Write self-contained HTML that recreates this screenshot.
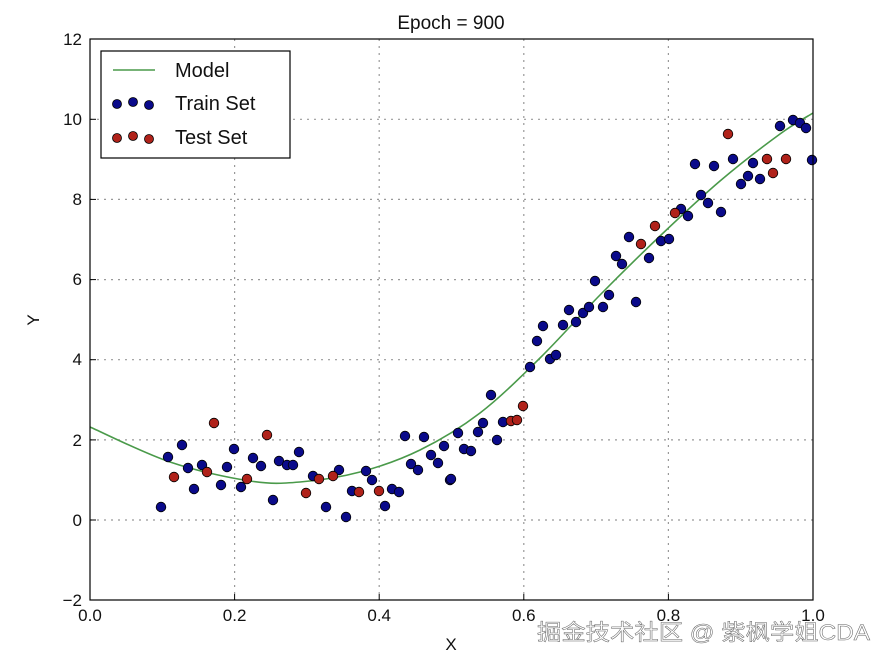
<!DOCTYPE html>
<html><head><meta charset="utf-8"><style>
body{margin:0;background:#fff;}
text{font-family:"Liberation Sans","DejaVu Sans",sans-serif;}
</style></head><body>
<svg width="891" height="664" xmlns="http://www.w3.org/2000/svg">
<rect width="891" height="664" fill="#fff"/>
<g stroke="#999" stroke-width="1.2" stroke-dasharray="2,5">
<line x1="234.6" y1="39" x2="234.6" y2="600"/><line x1="379.2" y1="39" x2="379.2" y2="600"/>
<line x1="523.8" y1="39" x2="523.8" y2="600"/><line x1="668.4" y1="39" x2="668.4" y2="600"/>
<line x1="90" y1="119.3" x2="813" y2="119.3"/><line x1="90" y1="199.4" x2="813" y2="199.4"/>
<line x1="90" y1="279.6" x2="813" y2="279.6"/><line x1="90" y1="359.7" x2="813" y2="359.7"/>
<line x1="90" y1="439.9" x2="813" y2="439.9"/><line x1="90" y1="520" x2="813" y2="520"/>
</g>
<path id="model" d="M90,427 L170,462 L250,481 L300,482 L360,472 L420,450 L480,413 L540,358 L600,295 L660,236 L720,181 L780,134 L813,113" fill="none" stroke="#4a9a4a" stroke-width="1.6"/>
<g fill="#0a0a8a" stroke="#000" stroke-width="0.8">
<circle cx="161" cy="507" r="4.8"/><circle cx="168" cy="457" r="4.8"/><circle cx="182" cy="445" r="4.8"/><circle cx="188" cy="468" r="4.8"/><circle cx="194" cy="489" r="4.8"/><circle cx="202" cy="465" r="4.8"/><circle cx="221" cy="485" r="4.8"/><circle cx="227" cy="467" r="4.8"/><circle cx="234" cy="449" r="4.8"/><circle cx="241" cy="487" r="4.8"/><circle cx="253" cy="458" r="4.8"/><circle cx="261" cy="466" r="4.8"/><circle cx="273" cy="500" r="4.8"/><circle cx="279" cy="461" r="4.8"/><circle cx="287" cy="465" r="4.8"/><circle cx="293" cy="465" r="4.8"/><circle cx="299" cy="452" r="4.8"/><circle cx="313" cy="476" r="4.8"/><circle cx="326" cy="507" r="4.8"/><circle cx="339" cy="470" r="4.8"/><circle cx="346" cy="517" r="4.8"/><circle cx="352" cy="491" r="4.8"/><circle cx="366" cy="471" r="4.8"/><circle cx="372" cy="480" r="4.8"/><circle cx="385" cy="506" r="4.8"/><circle cx="392" cy="489" r="4.8"/><circle cx="399" cy="492" r="4.8"/><circle cx="405" cy="436" r="4.8"/><circle cx="411" cy="464" r="4.8"/><circle cx="418" cy="470" r="4.8"/><circle cx="424" cy="437" r="4.8"/><circle cx="431" cy="455" r="4.8"/><circle cx="438" cy="463" r="4.8"/><circle cx="444" cy="446" r="4.8"/><circle cx="450" cy="480" r="4.8"/>
<circle cx="451" cy="479" r="4.8"/><circle cx="458" cy="433" r="4.8"/><circle cx="464" cy="449" r="4.8"/><circle cx="471" cy="451" r="4.8"/><circle cx="478" cy="432" r="4.8"/><circle cx="483" cy="423" r="4.8"/><circle cx="491" cy="395" r="4.8"/><circle cx="497" cy="440" r="4.8"/><circle cx="503" cy="422" r="4.8"/><circle cx="530" cy="367" r="4.8"/><circle cx="537" cy="341" r="4.8"/><circle cx="543" cy="326" r="4.8"/><circle cx="550" cy="359" r="4.8"/><circle cx="556" cy="355" r="4.8"/><circle cx="563" cy="325" r="4.8"/><circle cx="569" cy="310" r="4.8"/><circle cx="576" cy="322" r="4.8"/><circle cx="583" cy="313" r="4.8"/><circle cx="589" cy="307" r="4.8"/><circle cx="595" cy="281" r="4.8"/><circle cx="603" cy="307" r="4.8"/><circle cx="609" cy="295" r="4.8"/><circle cx="616" cy="256" r="4.8"/><circle cx="622" cy="264" r="4.8"/><circle cx="629" cy="237" r="4.8"/><circle cx="636" cy="302" r="4.8"/><circle cx="649" cy="258" r="4.8"/><circle cx="661" cy="241" r="4.8"/><circle cx="669" cy="239" r="4.8"/><circle cx="681" cy="209" r="4.8"/><circle cx="688" cy="216" r="4.8"/><circle cx="695" cy="164" r="4.8"/><circle cx="701" cy="195" r="4.8"/><circle cx="708" cy="203" r="4.8"/><circle cx="714" cy="166" r="4.8"/><circle cx="721" cy="212" r="4.8"/><circle cx="733" cy="159" r="4.8"/><circle cx="741" cy="184" r="4.8"/><circle cx="748" cy="176" r="4.8"/><circle cx="753" cy="163" r="4.8"/><circle cx="760" cy="179" r="4.8"/><circle cx="780" cy="126" r="4.8"/><circle cx="793" cy="120" r="4.8"/><circle cx="800" cy="123" r="4.8"/><circle cx="806" cy="128" r="4.8"/><circle cx="812" cy="160" r="4.8"/>
</g>
<g fill="#b0221a" stroke="#000" stroke-width="0.8">
<circle cx="174" cy="477" r="4.8"/><circle cx="207" cy="472" r="4.8"/><circle cx="214" cy="423" r="4.8"/><circle cx="247" cy="479" r="4.8"/><circle cx="267" cy="435" r="4.8"/><circle cx="306" cy="493" r="4.8"/><circle cx="319" cy="479" r="4.8"/><circle cx="333" cy="476" r="4.8"/><circle cx="359" cy="492" r="4.8"/><circle cx="379" cy="491" r="4.8"/><circle cx="511" cy="421" r="4.8"/><circle cx="517" cy="420" r="4.8"/><circle cx="523" cy="406" r="4.8"/><circle cx="641" cy="244" r="4.8"/><circle cx="655" cy="226" r="4.8"/><circle cx="675" cy="213" r="4.8"/><circle cx="728" cy="134" r="4.8"/><circle cx="767" cy="159" r="4.8"/><circle cx="773" cy="173" r="4.8"/><circle cx="786" cy="159" r="4.8"/>
</g>
<rect x="90" y="39" width="723" height="561" fill="none" stroke="#000" stroke-width="1.2"/>
<g stroke="#000" stroke-width="1">
<line x1="234.6" y1="600" x2="234.6" y2="594"/><line x1="379.2" y1="600" x2="379.2" y2="594"/><line x1="523.8" y1="600" x2="523.8" y2="594"/><line x1="668.4" y1="600" x2="668.4" y2="594"/>
<line x1="90" y1="119.3" x2="96" y2="119.3"/><line x1="90" y1="199.4" x2="96" y2="199.4"/><line x1="90" y1="279.6" x2="96" y2="279.6"/><line x1="90" y1="359.7" x2="96" y2="359.7"/><line x1="90" y1="439.9" x2="96" y2="439.9"/><line x1="90" y1="520" x2="96" y2="520"/>
</g>
<g font-size="17" fill="#111" text-anchor="middle">
<text x="90" y="621">0.0</text><text x="234.6" y="621">0.2</text><text x="379.2" y="621">0.4</text><text x="523.8" y="621">0.6</text><text x="668.4" y="621">0.8</text><text x="813" y="621">1.0</text>
</g>
<g font-size="17" fill="#111" text-anchor="end">
<text x="82" y="45">12</text><text x="82" y="125">10</text><text x="82" y="205">8</text><text x="82" y="285">6</text><text x="82" y="365">4</text><text x="82" y="446">2</text><text x="82" y="526">0</text><text x="82" y="606">−2</text>
</g>
<text x="451" y="29" font-size="19" text-anchor="middle" fill="#111">Epoch = 900</text>
<text x="451" y="650" font-size="17" text-anchor="middle" fill="#111">X</text>
<text x="39" y="320" font-size="17" text-anchor="middle" fill="#111" transform="rotate(-90 39 320)">Y</text>
<rect x="101" y="51" width="189" height="107" fill="#fff" stroke="#000" stroke-width="1.2"/>
<line x1="113" y1="70" x2="155" y2="70" stroke="#4a9a4a" stroke-width="1.6"/>
<g fill="#0a0a8a" stroke="#000" stroke-width="0.8"><circle cx="117" cy="104" r="4.5"/><circle cx="133" cy="102" r="4.5"/><circle cx="149" cy="105" r="4.5"/></g>
<g fill="#b0221a" stroke="#000" stroke-width="0.8"><circle cx="117" cy="138" r="4.5"/><circle cx="133" cy="136" r="4.5"/><circle cx="149" cy="139" r="4.5"/></g>
<g font-size="20" fill="#111"><text x="175" y="77">Model</text><text x="175" y="110">Train Set</text><text x="175" y="144">Test Set</text></g>
<text x="537" y="640" font-size="22" fill="#fff" stroke="#666" stroke-width="0.5" textLength="333" lengthAdjust="spacingAndGlyphs" style="font-family:'Liberation Sans','Noto Sans CJK SC',sans-serif">掘金技术社区 @ 紫枫学姐CDA</text>
</svg>
<script>
(function(){
var p=[[90,427],[170,462],[250,481],[300,482],[360,472],[420,450],[480,413],[540,358],[600,295],[660,236],[720,181],[780,134],[813,113]];
var d="M"+p[0][0]+","+p[0][1];
for(var i=0;i<p.length-1;i++){
var p0=p[i-1]||p[i],p1=p[i],p2=p[i+1],p3=p[i+2]||p[i+1];
var c1x=p1[0]+(p2[0]-p0[0])/6,c1y=p1[1]+(p2[1]-p0[1])/6;
var c2x=p2[0]-(p3[0]-p1[0])/6,c2y=p2[1]-(p3[1]-p1[1])/6;
d+=" C"+c1x.toFixed(1)+","+c1y.toFixed(1)+" "+c2x.toFixed(1)+","+c2y.toFixed(1)+" "+p2[0]+","+p2[1];
}
document.getElementById("model").setAttribute("d",d);
})();
</script>
</body></html>
